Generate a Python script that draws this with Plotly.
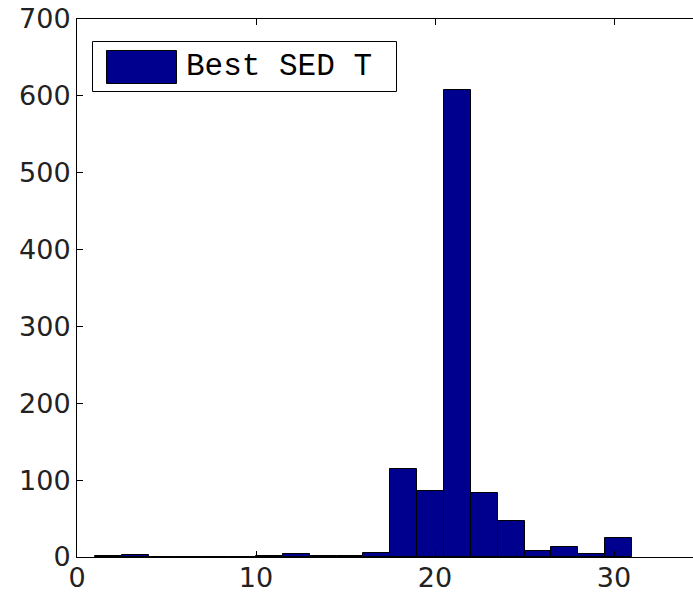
import plotly.graph_objects as go

# Histogram data: 20 bins of width 1.5 starting at 1
bin_centers = [1.75, 3.25, 4.75, 6.25, 7.75, 9.25, 10.75, 12.25, 13.75, 15.25,
               16.75, 18.25, 19.75, 21.25, 22.75, 24.25, 25.75, 27.25, 28.75, 30.25]
counts = [1, 2, 0, 0, 0, 0, 1, 4, 1, 1,
          5, 114, 86, 607, 83, 47, 8, 13, 4, 25]
bin_width = 1.5
series_name = "Best SED T"
x_ticks = [0, 10, 20, 30]
y_ticks = [0, 100, 200, 300, 400, 500, 600, 700]

BAR_COLOR = "#00008F"

fig = go.Figure()
fig.add_trace(go.Bar(
    x=bin_centers, y=counts, width=bin_width, name=series_name,
    marker=dict(color=BAR_COLOR, line=dict(color="black", width=1)),
    showlegend=False,
))

tick_font = dict(family="DejaVu Sans", size=27, color="#222222")

fig.update_layout(
    width=693, height=592,
    margin=dict(l=77, r=0, t=19, b=35, autoexpand=False),
    paper_bgcolor="white", plot_bgcolor="white",
    bargap=0,
    xaxis=dict(range=[0, 616 / 17.9], tickvals=x_ticks, ticks="inside", ticklen=6,
               tickcolor="black", showline=True, linecolor="black", linewidth=1,
               mirror="ticks", showgrid=False, zeroline=False, tickfont=tick_font,
               automargin=False, ticklabeloverflow="allow", ticklabelstandoff=-3),
    yaxis=dict(range=[0, 700], tickvals=y_ticks, ticks="inside", ticklen=6,
               tickcolor="black", showline=True, linecolor="black", linewidth=1,
               mirror=False, showgrid=False, zeroline=False, tickfont=tick_font,
               automargin=False, ticklabeloverflow="allow"),
)

# Legend drawn manually (large swatch like the original)
fig.add_shape(type="rect", xref="paper", yref="paper",
              x0=(92.5 - 77) / 616, x1=(396.5 - 77) / 616,
              y0=(557 - 91.5) / 538, y1=(557 - 41.5) / 538,
              line=dict(color="black", width=1), fillcolor="white", layer="above")
fig.add_shape(type="rect", xref="paper", yref="paper",
              x0=(106.5 - 77) / 616, x1=(176.5 - 77) / 616,
              y0=(557 - 83.5) / 538, y1=(557 - 50.5) / 538,
              line=dict(color="black", width=1), fillcolor=BAR_COLOR, layer="above")
fig.add_annotation(xref="paper", yref="paper", x=(184 - 77) / 616, y=(557 - 67) / 538,
                   xanchor="left", yanchor="middle", showarrow=False, text=series_name,
                   font=dict(family="Liberation Mono", size=31, color="black"))

fig.write_html(
    "out.html",
    config={"displayModeBar": False},
    post_script="document.body.style.margin='0';document.body.style.overflow='hidden';",
)
